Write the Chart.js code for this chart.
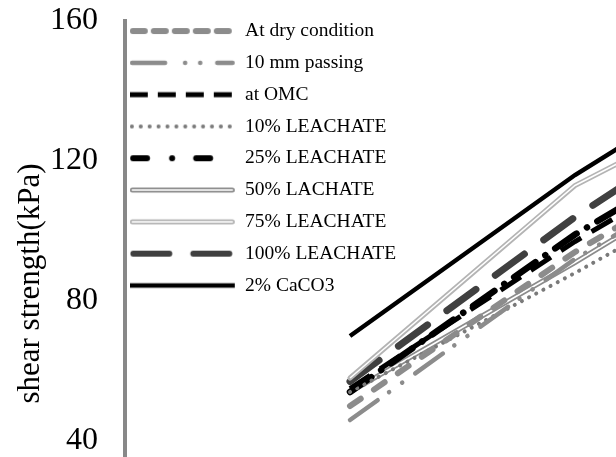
<!DOCTYPE html>
<html>
<head>
<meta charset="utf-8">
<script src="https://cdn.jsdelivr.net/npm/chart.js@4.4.1/dist/chart.umd.min.js"></script>
<style>
    html, body { margin: 0; padding: 0; background: #fff; }
    #wrap { width: 616px; height: 457px; overflow: hidden; position: relative; }
    #myChart { position: absolute; left: 0; top: 0; }
</style>
</head>
<body>
<div id="wrap"><canvas id="myChart" width="890" height="546"></canvas></div>
<script>
// normal stress (kPa) of the three tests
const normalStress = [50, 100, 150];

const seriesNames = ['At dry condition', '10 mm passing', 'at OMC', '10% LEACHATE', '25% LEACHATE',
    '50% LACHATE', '75% LEACHATE', '100% LEACHATE', '2% CaCO3'];

// shear strength (kPa)
const dryCondition = [50, 94, 132];
const mmPassing = [46, 92, 130];
const atOMC = [55, 97, 135];
const leachate10 = [54, 88, 124];
const leachate25 = [54, 99, 137];
const leachate50 = [54, 91, 130];
const leachate75 = [58, 113, 146];
const leachate100 = [57, 104, 146];
const caco3 = [70, 116, 156];

const yTicks = [40, 80, 120, 160];

const allSeries = [dryCondition, mmPassing, atOMC, leachate10, leachate25, leachate50, leachate75, leachate100, caco3];

const styles = [
    {color: '#8c8c8c', width: 6, dash: [13, 16], cap: 'round', legendDash: [12, 9]},
    {color: '#8c8c8c', width: 4.5, dash: [34, 14, 0.1, 16, 0.1, 16], cap: 'round', legendDash: [33, 20, 0.1, 15, 0.1, 17]},
    {color: '#000000', width: 5, dash: [24, 12], cap: 'butt', legendDash: [18, 10]},
    {color: '#7a7a7a', width: 4, dash: [0.1, 8], cap: 'round', legendDash: [0.1, 8.8]},
    {color: '#000000', width: 6.5, dash: [26, 12, 0.1, 12], cap: 'round', legendDash: [14, 25, 0.1, 24]},
    {color: '#8c8c8c', width: 5, double: true},
    {color: '#b4b4b4', width: 5, double: true},
    {color: '#404040', width: 7, dash: [36, 24], cap: 'round', legendDash: [36, 24]},
    {color: '#000000', width: 4.5}
];

const makeIcon = function (st) {
    let c = document.createElement('canvas');
    c.width = 113;
    c.height = 14;
    let g = c.getContext('2d');
    let round = st.cap === 'round' || st.double;
    let cap = round ? st.width / 2 : 0;
    g.lineCap = round ? 'round' : 'butt';
    g.lineWidth = Math.min(st.width, 6);
    g.strokeStyle = st.color;
    g.setLineDash(st.legendDash || []);
    g.beginPath();
    g.moveTo(cap, 7);
    g.lineTo(105 - cap, 7);
    g.stroke();
    if (st.double) {
        g.setLineDash([]);
        g.lineWidth = 1.5;
        g.strokeStyle = '#ffffff';
        g.beginPath();
        g.moveTo(cap, 7);
        g.lineTo(105 - cap, 7);
        g.stroke();
    }
    return c;
};

const icons = styles.map(makeIcon);

const points = function (values) {
    return normalStress.map((x, i) => ({x: x, y: values[i]}));
};

let datasets = [];
allSeries.forEach(function (values, i) {
    const st = styles[i];
    datasets.push({
        label: seriesNames[i],
        data: points(values),
        borderColor: st.color,
        backgroundColor: st.color,
        borderWidth: st.width,
        borderDash: st.dash || [],
        borderCapStyle: st.double ? 'round' : (st.cap || 'butt'),
        pointRadius: 0,
        fill: false,
        tension: 0,
        order: i
    });
});
// white core of the double lines
allSeries.forEach(function (values, i) {
    if (!styles[i].double) return;
    datasets.push({
        label: seriesNames[i] + ' core',
        overlay: true,
        data: points(values),
        borderColor: '#ffffff',
        borderWidth: 1.5,
        pointRadius: 0,
        fill: false,
        tension: 0,
        order: i - 0.5
    });
});

let ctx = document.getElementById('myChart').getContext('2d');

let chart = new Chart(ctx, {
    type: 'line',
    data: {datasets: datasets},
    options: {
        responsive: false,
        animation: false,
        devicePixelRatio: 1,
        layout: {padding: {top: 21, left: 0, right: 0, bottom: 0}},
        scales: {
            x: {type: 'linear', min: 0, max: 170, display: false},
            y: {
                min: 10,
                max: 160,
                afterBuildTicks: function (s) { s.ticks = yTicks.map(v => ({value: v})); },
                afterFit: function (s) { s.width = 125; s.paddingTop = 0; s.paddingBottom = 0; },
                grid: {display: false, drawTicks: false},
                border: {display: true, color: '#888888', width: 4},
                ticks: {padding: 27, color: '#000', font: {family: 'Liberation Serif', size: 32}},
                title: {
                    display: true,
                    text: 'shear strength(kPa)',
                    color: '#000',
                    font: {family: 'Liberation Serif', size: 31},
                    padding: {top: 12, bottom: 0}
                }
            }
        },
        plugins: {
            tooltip: {enabled: false},
            legend: {
                position: 'chartArea',
                align: 'start',
                title: {display: true, text: '', font: {size: 6, lineHeight: 1}, padding: {top: 0, bottom: 3}},
                labels: {
                    usePointStyle: true,
                    pointStyleWidth: 98,
                    padding: 12.3,
                    color: '#000',
                    font: {family: 'Liberation Serif', size: 19.5},
                    filter: (item, data) => !data.datasets[item.datasetIndex].overlay,
                    generateLabels: function (c) {
                        let items = Chart.defaults.plugins.legend.labels.generateLabels(c);
                        items.forEach(function (item) { item.pointStyle = icons[item.datasetIndex]; });
                        return items;
                    }
                }
            }
        }
    }
});
</script>
</body>
</html>
